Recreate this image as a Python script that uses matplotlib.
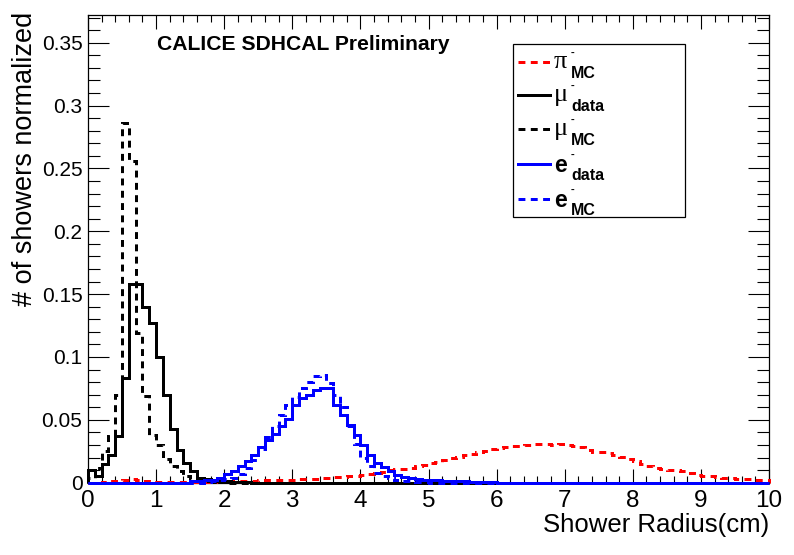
import numpy as np
import matplotlib
matplotlib.use("Agg")
import matplotlib.pyplot as plt
from matplotlib.ticker import MultipleLocator, FuncFormatter
from matplotlib.lines import Line2D
from matplotlib.patches import Rectangle

# ---------------- data (normalized bin contents, 0.1 cm bins from 0 to 10 cm) -------------
bin_edges = np.round(np.linspace(0.0, 10.0, 101), 2)

pi_mc = [0, 0, 0.0005, 0.001, 0.001, 0.002, 0.003, 0.002, 0.001, 0.0005,
         0.0005, 0.0005, 0.0005, 0.0005, 0.0005, 0.0008, 0.0008, 0.0008, 0.0008, 0.0008,
         0.0012, 0.0013, 0.0014, 0.0015, 0.0016, 0.0018, 0.002, 0.0021, 0.0022, 0.0023,
         0.0025, 0.0028, 0.003, 0.0033, 0.0036, 0.0038, 0.0042, 0.0047, 0.005, 0.0054,
         0.0058, 0.0066, 0.0075, 0.0085, 0.0098, 0.0105, 0.0112, 0.012, 0.013, 0.0142,
         0.0155, 0.0168, 0.018, 0.0195, 0.0206, 0.0218, 0.0232, 0.0243, 0.0252, 0.0266,
         0.0278, 0.0282, 0.0288, 0.0292, 0.030, 0.0306, 0.031, 0.0308, 0.0302, 0.031,
         0.030, 0.0292, 0.028, 0.026, 0.0248, 0.0246, 0.0235, 0.022, 0.0204, 0.0188,
         0.0169, 0.015, 0.013, 0.0117, 0.0108, 0.0103, 0.0102, 0.009, 0.0077, 0.0064,
         0.0056, 0.005, 0.0045, 0.004, 0.0034, 0.0032, 0.0029, 0.0027, 0.0024, 0.0019]

mu_data = [0.010, 0.005, 0.015, 0.022, 0.037, 0.083, 0.158, 0.158, 0.140, 0.127,
           0.100, 0.070, 0.043, 0.026, 0.0156, 0.009, 0.004, 0.003, 0.002, 0.001,
           0.001, 0.0005, 0.0005, 0.0003, 0, 0, 0, 0, 0, 0] + [0] * 70

mu_mc = [0.004, 0.012, 0.025, 0.037, 0.070, 0.286, 0.256, 0.119, 0.069, 0.038,
         0.030, 0.019, 0.013, 0.009, 0.005, 0.003, 0.002, 0.001, 0.001, 0.0005] + [0] * 80

e_data = [0] * 10 + [
          0, 0, 0, 0, 0, 0.001, 0.001, 0.002, 0.0025, 0.0035,
          0.0066, 0.0093, 0.0135, 0.0172, 0.022, 0.028, 0.034, 0.039, 0.045, 0.051,
          0.062, 0.067, 0.070, 0.0736, 0.0755, 0.0755, 0.0617, 0.0537, 0.0458, 0.038,
          0.030, 0.022, 0.0154, 0.0127, 0.0093, 0.006, 0.0048, 0.0035, 0.0027, 0.002,
          0.002, 0.0018, 0.0015, 0.0015, 0.0012, 0.001, 0.0008, 0.0006, 0.0005, 0.0004] + [0] * 40

e_mc = [0] * 10 + [
        0, 0, 0, 0, 0, 0, 0, 0.0005, 0.001, 0.002,
        0.003, 0.0035, 0.0066, 0.012, 0.018, 0.027, 0.0365, 0.045, 0.054, 0.062,
        0.068, 0.075, 0.080, 0.0847, 0.086, 0.079, 0.070, 0.060, 0.045, 0.031,
        0.020, 0.013, 0.0077, 0.005, 0.0037, 0.002, 0.0015, 0.001, 0.0005, 0.0005] + [0] * 50

x_ticks = list(range(0, 11))
y_ticks = [0, 0.05, 0.1, 0.15, 0.2, 0.25, 0.3, 0.35]

# ---------------- figure ----------------
W, H = 794, 555
fig = plt.figure(figsize=(W / 100, H / 100), dpi=100)
fig.patch.set_facecolor("white")

def fx(px):
    return px / W

def fy(py):
    return 1 - py / H

ax_l, ax_r, ax_t, ax_b = 88, 769, 15, 482.7
ax = fig.add_axes([fx(ax_l), fy(ax_b), fx(ax_r) - fx(ax_l), fy(ax_t) - fy(ax_b)])
ax.set_xlim(0, 10)
ax.set_ylim(0, 0.372)

LW = 2.16
dash = (0, (2.3, 1.8))
series = [
    (pi_mc, "#ff0000", dash),
    (mu_data, "black", "solid"),
    (mu_mc, "black", dash),
    (e_data, "#0000ff", "solid"),
    (e_mc, "#0000ff", dash),
]
for i, (vals, col, ls) in enumerate(series):
    ax.stairs(vals, bin_edges, baseline=0, fill=False, color=col,
              linewidth=LW, linestyle=ls, clip_on=False, zorder=3 + i)

# ticks ROOT style
ax.xaxis.set_minor_locator(MultipleLocator(0.2))
ax.yaxis.set_minor_locator(MultipleLocator(0.01))
ax.set_xticks(x_ticks)
ax.set_yticks(y_ticks)
ax.xaxis.set_major_formatter(FuncFormatter(lambda v, p: f"{v:g}"))
ax.yaxis.set_major_formatter(FuncFormatter(lambda v, p: f"{v:g}"))
ax.tick_params(axis="both", which="both", direction="in", top=True, right=True,
               width=0.8, color="black")
ax.tick_params(axis="x", which="major", length=10, pad=5, labelsize=17.5)
ax.tick_params(axis="x", which="minor", length=5)
ax.tick_params(axis="y", which="major", length=15, pad=4, labelsize=15)
ax.tick_params(axis="y", which="minor", length=8.5)
for lab in ax.get_xticklabels() + ax.get_yticklabels():
    lab.set_family("Liberation Sans")
for sp in ax.spines.values():
    sp.set_linewidth(0.9)

# axis titles
fig.text(fx(769), fy(532), "Shower Radius(cm)", ha="right", va="baseline",
         fontsize=18.5, family="Liberation Sans")
fig.text(fx(25), fy(12), "# of showers normalized", rotation=90, ha="center", va="top",
         fontsize=19.5, family="Liberation Sans")

# preliminary label
fig.text(fx(157), fy(50), "CALICE SDHCAL Preliminary", ha="left", va="baseline",
         fontsize=15.2, fontweight="bold", family="Liberation Sans")

# legend drawn by hand (ROOT TLegend look)
fig.patches.append(Rectangle((fx(513.3), fy(216.7)), fx(685) - fx(513.3), fy(44) - fy(216.7),
                             transform=fig.transFigure, facecolor="white", edgecolor="black",
                             linewidth=0.9, zorder=10))
leg_rows = [
    ("\u03c0", "MC", "#ff0000", dash, 61.7, "greek"),
    ("\u03bc", "data", "black", "solid", 95.0, "greek"),
    ("\u03bc", "MC", "black", dash, 129.0, "greek"),
    ("e", "data", "#0000ff", "solid", 164.0, "latin"),
    ("e", "MC", "#0000ff", dash, 199.0, "latin"),
]
for sym, sub, col, ls, ly, kind in leg_rows:
    fig.add_artist(Line2D([fx(518), fx(550)], [fy(ly), fy(ly)], transform=fig.transFigure,
                          color=col, linewidth=LW, linestyle=ls, zorder=11))
    if kind == "greek":
        fig.text(fx(554), fy(ly + 6.5), sym, ha="left", va="baseline", fontsize=19,
                 family=["Liberation Serif", "DejaVu Serif"], zorder=12)
    else:
        fig.text(fx(554), fy(ly + 8), sym, ha="left", va="baseline", fontsize=16.5,
                 fontweight="bold", family="Liberation Sans", zorder=12)
    fig.text(fx(571), fy(ly - 9), "-", ha="left", va="center", fontsize=8,
             fontweight="bold", family="Liberation Sans", zorder=12)
    fig.text(fx(571), fy(ly + 16), sub, ha="left", va="baseline", fontsize=11.5,
             fontweight="bold", family="Liberation Sans", zorder=12)

fig.savefig("out.png", dpi=100, facecolor="white")
